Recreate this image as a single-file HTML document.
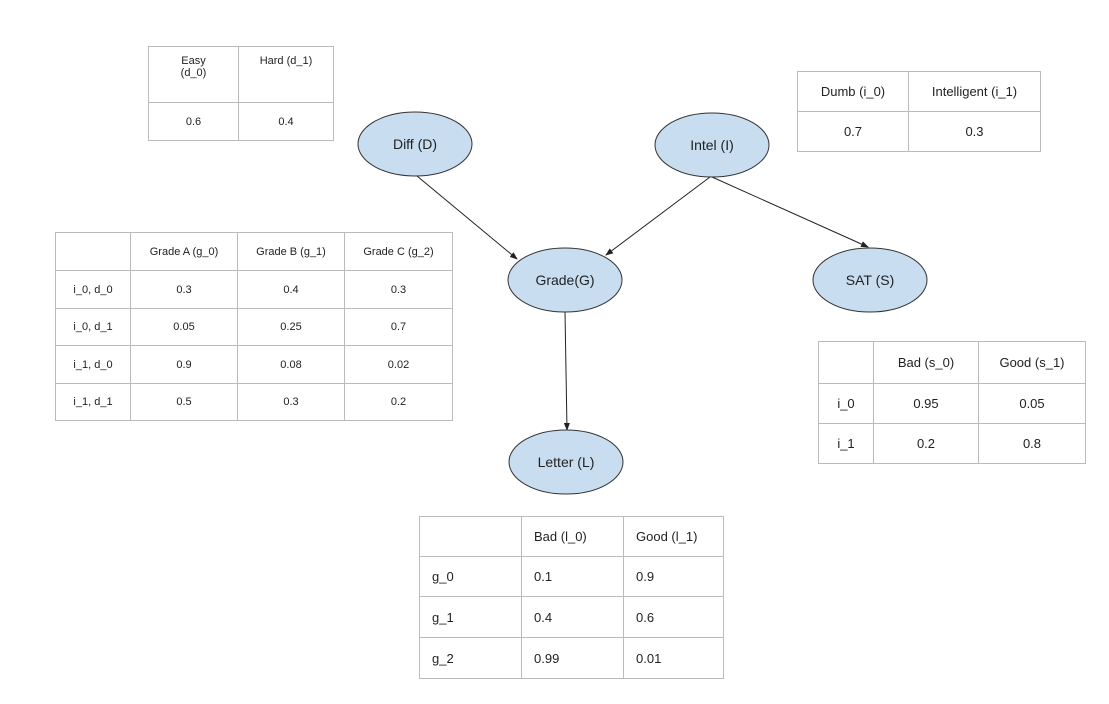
<!DOCTYPE html>
<html><head><style>
body{margin:0;width:1109px;height:704px;background:#fff;position:relative;font-family:"Liberation Sans",Arial,sans-serif;color:#222;overflow:hidden}
table{position:absolute;border-collapse:collapse}
td{border:1px solid #bbb;padding:0;text-align:center;font-size:13px}
.s td{font-size:11px}
.l td{text-align:left;padding-left:12px;font-size:13px}
</style></head><body>
<svg width="1109" height="704" style="position:absolute;left:0;top:0">
<defs><marker id="a" markerWidth="8" markerHeight="8" refX="7" refY="4" orient="auto" markerUnits="userSpaceOnUse"><path d="M0,1 L8,4 L0,7 z" fill="#222"/></marker></defs>
<g stroke="#222" stroke-width="1" fill="none">
<line x1="417" y1="176" x2="517" y2="259" marker-end="url(#a)"/>
<line x1="710" y1="177" x2="606" y2="255" marker-end="url(#a)"/>
<line x1="712" y1="177" x2="868" y2="247" marker-end="url(#a)"/>
<line x1="565" y1="312" x2="567" y2="430" marker-end="url(#a)"/>
</g>
<g fill="#c9ddf0" stroke="#333" stroke-width="1">
<ellipse cx="415" cy="144" rx="57" ry="32"/>
<ellipse cx="712" cy="145" rx="57" ry="32"/>
<ellipse cx="565" cy="280" rx="57" ry="32"/>
<ellipse cx="870" cy="280" rx="57" ry="32"/>
<ellipse cx="566" cy="462" rx="57" ry="32"/>
</g>
<g font-family="Liberation Sans,Arial,sans-serif" font-size="14" fill="#222" text-anchor="middle">
<text x="415" y="149">Diff (D)</text>
<text x="712" y="150">Intel (I)</text>
<text x="565" y="285">Grade(G)</text>
<text x="870" y="285">SAT (S)</text>
<text x="566" y="467">Letter (L)</text>
</g>
</svg>
<table class="s" style="left:148px;top:46px;width:186px">
<tr style="height:56px"><td style="width:89px;vertical-align:top;padding-top:8px">Easy<br>(d_0)</td><td style="vertical-align:top;padding-top:8px">Hard (d_1)</td></tr>
<tr style="height:38px"><td>0.6</td><td>0.4</td></tr>
</table>
<table style="left:797px;top:71px;width:244px">
<tr style="height:40px"><td style="width:110px">Dumb (i_0)</td><td>Intelligent (i_1)</td></tr>
<tr style="height:40px"><td>0.7</td><td>0.3</td></tr>
</table>
<table class="s" style="left:55px;top:232px;width:398px">
<tr style="height:38px"><td style="width:74px"></td><td style="width:106px">Grade A (g_0)</td><td style="width:106px">Grade B (g_1)</td><td>Grade C (g_2)</td></tr>
<tr style="height:38px"><td>i_0, d_0</td><td>0.3</td><td>0.4</td><td>0.3</td></tr>
<tr style="height:37px"><td>i_0, d_1</td><td>0.05</td><td>0.25</td><td>0.7</td></tr>
<tr style="height:38px"><td>i_1, d_0</td><td>0.9</td><td>0.08</td><td>0.02</td></tr>
<tr style="height:37px"><td>i_1, d_1</td><td>0.5</td><td>0.3</td><td>0.2</td></tr>
</table>
<table style="left:818px;top:341px;width:268px">
<tr style="height:42px"><td style="width:54px"></td><td style="width:104px">Bad (s_0)</td><td>Good (s_1)</td></tr>
<tr style="height:40px"><td>i_0</td><td>0.95</td><td>0.05</td></tr>
<tr style="height:40px"><td>i_1</td><td>0.2</td><td>0.8</td></tr>
</table>
<table class="l" style="left:419px;top:516px;width:305px">
<tr style="height:40px"><td style="width:89px"></td><td style="width:89px">Bad (l_0)</td><td>Good (l_1)</td></tr>
<tr style="height:40px"><td>g_0</td><td>0.1</td><td>0.9</td></tr>
<tr style="height:41px"><td>g_1</td><td>0.4</td><td>0.6</td></tr>
<tr style="height:41px"><td>g_2</td><td>0.99</td><td>0.01</td></tr>
</table>
</body></html>
